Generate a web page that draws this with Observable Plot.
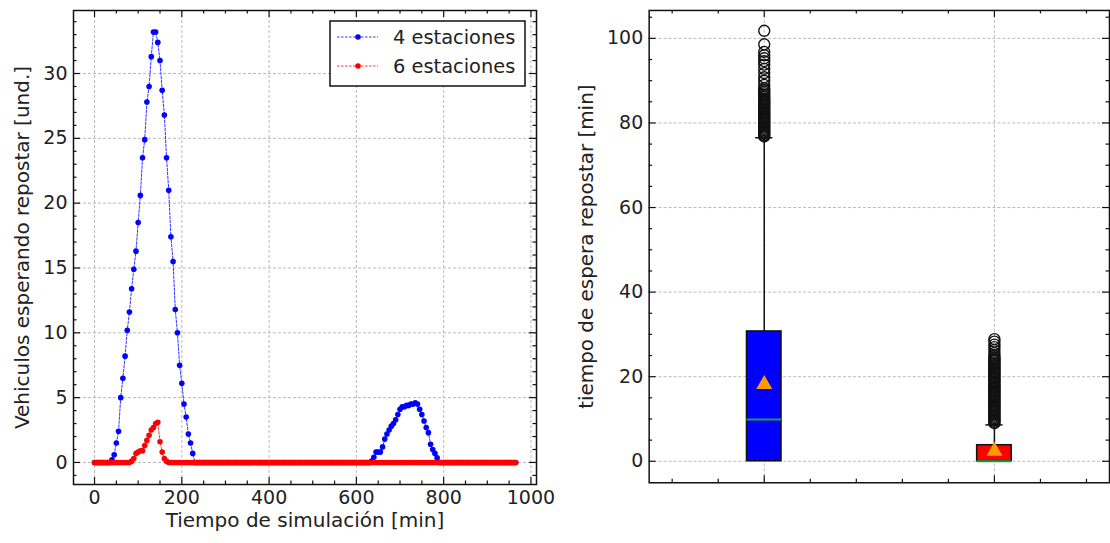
<!DOCTYPE html>
<html><head><meta charset="utf-8">
<script src="https://cdn.jsdelivr.net/npm/d3@7"></script>
<script src="https://cdn.jsdelivr.net/npm/@observablehq/plot@0.6"></script>
<style>
html,body{margin:0;padding:0;background:#fff;overflow:hidden;}
#wrap{position:relative;width:1110px;height:543px;overflow:hidden;font-family:"DejaVu Sans",sans-serif;background:#fff;}
#left{position:absolute;left:0;top:0;}
#right{position:absolute;left:555px;top:0;}
#legend{position:absolute;left:329px;top:20px;}
</style></head>
<body><div id="wrap"><div id="left"></div><div id="right"></div><svg id="legend" width="200" height="70"></svg></div>
<script>
// ---------- DATA: left panel ----------
const times = [
0,5,10,15,20,25,30,35,40,45,50,55,60,65,70,75,80,85,90,95,
100,105,110,115,120,125,130,135,140,145,150,155,160,165,170,175,180,185,190,195,
200,205,210,215,220,225,230,235,240,245,250,255,260,265,270,275,280,285,290,295,
300,305,310,315,320,325,330,335,340,345,350,355,360,365,370,375,380,385,390,395,
400,405,410,415,420,425,430,435,440,445,450,455,460,465,470,475,480,485,490,495,
500,505,510,515,520,525,530,535,540,545,550,555,560,565,570,575,580,585,590,595,
600,605,610,615,620,625,630,635,640,645,650,655,660,665,670,675,680,685,690,695,
700,705,710,715,720,725,730,735,740,745,750,755,760,765,770,775,780,785,790,795,
800,805,810,815,820,825,830,835,840,845,850,855,860,865,870,875,880,885,890,895,
900,905,910,915,920,925,930,935,940,945,950,955,960,965];
const cars4 = [
0,0,0,0,0,0,0,0,
0.2,0.6,1.5,2.4,5.0,6.5,8.2,10.2,11.6,13.4,14.9,16.3,
18.5,20.6,23.5,24.9,27.8,29.0,31.3,33.2,33.2,32.4,31.0,28.7,26.8,23.5,21.0,17.4,15.5,11.8,10.0,7.5,
6.1,4.5,3.5,2.2,1.5,0.7,
0,0,0,0,0,0,0,0,0,0,0,0,0,0,0,0,0,0,0,0,
0,0,0,0,0,0,0,0,0,0,0,0,0,0,0,0,0,0,0,0,
0,0,0,0,0,0,0,0,0,0,0,0,0,0,0,0,0,0,0,0,
0,0,0,0,0,0,0,0,0,0,0,0,0,0,0,0,0,0,0,0,
0,
0.1,0.4,0.8,0.8,0.8,1.2,1.8,2.2,2.5,2.8,3.0,3.3,3.7,4.1,4.3,4.3,4.4,4.4,4.5,4.5,
4.6,4.5,4.1,3.7,3.2,2.7,2.3,1.4,1.0,0.7,0.35,
0,0,0,0,0,0,0,0,0,0,0,0,0,0,0,0,0,0,0,0,
0,0,0,0,0,0,0,0,0,0,0,0,0,0,0,0];
const cars6 = [
0,0,0,0,0,0,0,0,0,0,0,0,0,0,0,0,0,
0.1,0.3,0.7,0.8,0.9,0.9,1.3,1.7,2.1,2.5,2.7,3.0,3.1,1.6,0.8,0.3,0.1,
0,0,0,0,0,0,0,0,0,0,0,0,0,0,0,0,0,0,0,0,
0,0,0,0,0,0,0,0,0,0,0,0,0,0,0,0,0,0,0,0,
0,0,0,0,0,0,0,0,0,0,0,0,0,0,0,0,0,0,0,0,
0,0,0,0,0,0,0,0,0,0,0,0,0,0,0,0,0,0,0,0,
0,0,0,0,0,0,0,0,0,0,0,0,0,0,0,0,0,0,0,0,
0,0,0,0,0,0,0,0,0,0,0,0,0,0,0,0,0,0,0,0,
0,0,0,0,0,0,0,0,0,0,0,0,0,0,0,0,0,0,0,0,
0,0,0,0,0,0,0,0,0,0,0,0,0,0,0,0,0,0,0,0];
const seriesNames = ["4 estaciones", "6 estaciones"];
const xTicksL = [0,200,400,600,800,1000];
const xMinorL = [50,100,150,250,300,350,450,500,550,650,700,750,850,900,950];
const yTicksL = [0,5,10,15,20,25,30];
const yMinorL = [-1,1,2,3,4,6,7,8,9,11,12,13,14,16,17,18,19,21,22,23,24,26,27,28,29,31,32,33,34];

// ---------- DATA: right panel (box plots) ----------
const boxPos   = [1, 2];
const boxQ1    = [0, 0];
const boxMed   = [9.9, 0];
const boxQ3    = [30.7, 3.8];
const whiskLo  = [0, 0];
const whiskHi  = [76.5, 8.6];
const boxMean  = [18.2, 2.4];
const outliers1 = [76.8,77.1,77.4,77.7,78,78.3,78.6,78.9,79.2,79.5,79.8,80.1,80.4,80.7,81,81.3,81.6,81.9,82.2,82.5,82.8,83.1,83.4,83.7,84,84.3,84.6,84.9,85.2,85.5,85.8,86.2,86.6,87,87.4,87.8,88.2,89,90,90.8,91.8,92.8,93.8,94.6,95.3,96,96.8,98.6,101.8];
const outliers2 = [9,9.3,9.6,9.9,10.2,10.5,10.8,11.1,11.4,11.7,12,12.3,12.6,12.9,13.2,13.5,13.8,14.1,14.4,14.7,15,15.3,15.6,15.9,16.2,16.5,16.8,17.1,17.4,17.7,18,18.3,18.6,18.9,19.2,19.5,19.8,20.1,20.4,20.7,21,21.3,21.6,21.9,22.2,22.5,22.8,23.1,23.4,23.7,24,24.3,24.6,25,25.6,26.3,27,27.6,28.3,28.9];
const yTicksR = [0,20,40,60,80,100];
const yMinorR = [5,10,15,25,30,35,45,50,55,65,70,75,85,90,95,105];
const xTicksR = [1,2];
const xMinorR = [0.6,0.8,1.2,1.4,1.6,1.8,2.2,2.4];

// ---------- helpers ----------
const INK = "#222";
const H = 543, MT = 10, MB = 59;
const FH = H - MT - MB;
const TICK_FS = 19, LABEL_FS = 20;
function frameTicks(xMaj, xMin, yMaj, yMin, FW) {
  const o = {stroke: "#111", strokeWidth: 1.2};
  const out = [];
  for (const [vals, len] of [[xMaj, 7], [xMin, 3.5]]) {
    out.push(Plot.tickX(vals, {x: d => d, insetTop: FH - len, ...o}));
    out.push(Plot.tickX(vals, {x: d => d, insetBottom: FH - len, ...o}));
  }
  for (const [vals, len] of [[yMaj, 7], [yMin, 3.5]]) {
    out.push(Plot.tickY(vals, {y: d => d, insetRight: FW - len, ...o}));
    out.push(Plot.tickY(vals, {y: d => d, insetLeft: FW - len, ...o}));
  }
  return out;
}
const baseStyle = {fontFamily: '"DejaVu Sans", sans-serif', fontSize: TICK_FS + "px", color: INK, background: "transparent", overflow: "visible"};
const gridStyle = {stroke: "#a8a8a8", strokeOpacity: 1, strokeWidth: 0.8, strokeDasharray: "3,2"};
const fmt = d => String(d);

// ---------- left plot ----------
const rows4 = times.map((t, i) => ({t, v: cars4[i]}));
const rows6 = times.map((t, i) => ({t, v: cars6[i]}));
const WL = 555, MLL = 73, MRL = 19;
const left = Plot.plot({
  width: WL, height: H, marginLeft: MLL, marginRight: MRL, marginTop: MT, marginBottom: MB,
  style: baseStyle,
  x: {domain: [-48.2, 1012.7]},
  y: {domain: [-1.7, 34.86]},
  marks: [
    Plot.gridX(xTicksL, gridStyle),
    Plot.gridY(yTicksL, gridStyle),
    Plot.line(rows4, {x: "t", y: "v", stroke: "#0000ff", strokeWidth: 0.8, strokeDasharray: "2.5,1.5"}),
    Plot.dot(rows4, {x: "t", y: "v", r: 2.8, fill: "#0000ff"}),
    Plot.line(rows6, {x: "t", y: "v", stroke: "#ff0000", strokeWidth: 0.8, strokeDasharray: "2.5,1.5"}),
    Plot.dot(rows6, {x: "t", y: "v", r: 2.8, fill: "#ff0000"}),
    Plot.frame({stroke: "#111", strokeWidth: 1.5}),
    ...frameTicks(xTicksL, xMinorL, yTicksL, yMinorL, WL - MLL - MRL),
    Plot.axisX(xTicksL, {tickSize: 0, tickPadding: 6, label: null, fontSize: TICK_FS, tickFormat: fmt}),
    Plot.axisY(yTicksL, {tickSize: 0, tickPadding: 6, label: null, fontSize: TICK_FS, tickFormat: fmt}),
    Plot.text(["Tiempo de simulación [min]"], {text: d => d, frameAnchor: "bottom", dy: 42, fontSize: LABEL_FS, fill: INK}),
    Plot.text(["Vehiculos esperando repostar [und.]"], {text: d => d, frameAnchor: "left", textAnchor: "middle", dx: -51, rotate: -90, fontSize: LABEL_FS, fill: INK})
  ]
});
document.getElementById("left").appendChild(left);

// ---------- right plot ----------
const boxes = boxPos.map((p, i) => ({p, q1: boxQ1[i], med: boxMed[i], q3: boxQ3[i], lo: whiskLo[i], hi: whiskHi[i], mean: boxMean[i]}));
const outRows = [...outliers1.map(v => ({p: boxPos[0], v})), ...outliers2.map(v => ({p: boxPos[1], v}))];
const WR = 557, MLR = 94, MRR = 1;
const hw = 0.075;
const right = Plot.plot({
  width: WR, height: H, marginLeft: MLR, marginRight: MRR, marginTop: MT, marginBottom: MB,
  style: baseStyle,
  x: {domain: [0.5, 2.5], axis: null},
  y: {domain: [-5.08, 106.6]},
  marks: [
    Plot.gridX(xTicksR, gridStyle),
    Plot.gridY(yTicksR, gridStyle),
    Plot.ruleX(boxes, {x: "p", y1: "q3", y2: "hi", stroke: "#111", strokeWidth: 1.5}),
    Plot.ruleX(boxes, {x: "p", y1: "lo", y2: "q1", stroke: "#111", strokeWidth: 1.5}),
    Plot.ruleY(boxes, {y: "hi", x1: d => d.p - hw / 2, x2: d => d.p + hw / 2, stroke: "#111", strokeWidth: 1.5}),
    Plot.rect(boxes, {x1: d => d.p - hw, x2: d => d.p + hw, y1: "q1", y2: "q3", fill: d => d.p === 1 ? "#0000ff" : "#ff0000", stroke: "#111", strokeWidth: 1.5}),
    Plot.ruleY(boxes, {y: "med", x1: d => d.p - hw, x2: d => d.p + hw, stroke: "#1f9e3c", strokeWidth: 2}),
    Plot.dot(outRows, {x: "p", y: "v", r: 5.5, stroke: "#111", strokeWidth: 1.4, fill: "none"}),
    Plot.dot(boxes, {x: "p", y: "mean", symbol: "triangle", r: 6, fill: "#ff9900"}),
    Plot.frame({stroke: "#111", strokeWidth: 1.5}),
    ...frameTicks(xTicksR, xMinorR, yTicksR, yMinorR, WR - MLR - MRR),
    Plot.axisY(yTicksR, {tickSize: 0, tickPadding: 6, label: null, fontSize: TICK_FS, tickFormat: fmt}),
    Plot.text(["tiempo de espera repostar [min]"], {text: d => d, frameAnchor: "left", textAnchor: "middle", dx: -63, rotate: -90, fontSize: LABEL_FS, fill: INK})
  ]
});
document.getElementById("right").appendChild(right);

// ---------- legend ----------
const colors = ["#0000ff", "#ff0000"];
const lg = d3.select("#legend");
lg.append("rect").attr("x", 1).attr("y", 1).attr("width", 195).attr("height", 65)
  .attr("fill", "#fff").attr("stroke", "#111").attr("stroke-width", 1.5);
seriesNames.forEach((name, i) => {
  const cy = 17 + i * 29;
  lg.append("line").attr("x1", 8).attr("x2", 49).attr("y1", cy).attr("y2", cy)
    .attr("stroke", colors[i]).attr("stroke-width", 0.8).attr("stroke-dasharray", "2.5,1.5");
  lg.append("circle").attr("cx", 29).attr("cy", cy).attr("r", 2.8).attr("fill", colors[i]);
  lg.append("text").attr("x", 64).attr("y", cy).attr("dy", "0.36em")
    .attr("font-family", '"DejaVu Sans", sans-serif').attr("font-size", 19.4).attr("fill", INK).text(name);
});
</script>
</body></html>
